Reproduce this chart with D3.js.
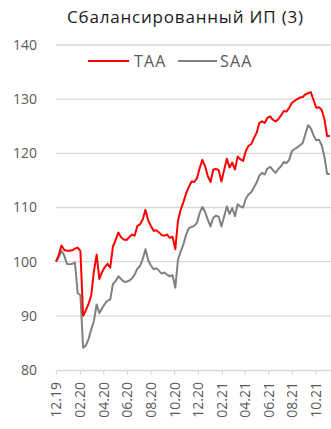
<!DOCTYPE html>
<html>
<head>
<meta charset="utf-8">
<script src="https://cdn.jsdelivr.net/npm/d3@7"></script>
<style>
  html, body { margin: 0; padding: 0; background: #fff; }
  svg { display: block; }
</style>
</head>
<body>
<svg id="chart" width="331" height="429"></svg>
<script>
// ---- data ----
const title = "Сбалансированный ИП (3)";
const seriesNames = ["TAA", "SAA"];
const startDate = "2019-12-01"; // weekly observations
const taa = [
  100.0, 101.2, 103.0, 102.2, 102.0, 102.0, 102.1, 102.4, 102.6, 102.0,
  90.0, 91.0, 92.2, 93.8, 98.3, 101.3, 96.8, 98.1, 99.0, 99.6,
  98.9, 102.8, 104.0, 105.4, 104.5, 104.1, 104.0, 104.5, 105.0, 104.8,
  106.6, 106.9, 107.8, 109.6, 107.6, 106.6, 105.7, 105.8, 105.4, 104.9,
  104.8, 105.0, 104.4, 104.6, 102.3, 107.6, 109.6, 111.0, 112.6, 113.8,
  114.8, 114.7, 115.4, 117.3, 118.8, 117.6, 115.8, 114.7, 117.0, 117.1,
  116.9, 114.8, 116.9, 119.0, 117.4, 118.3, 117.0, 119.4, 118.9, 118.6,
  120.4, 121.4, 121.7, 122.8, 123.8, 125.6, 125.9, 125.6, 126.6, 126.8,
  126.2, 125.9, 126.3, 127.0, 127.8, 127.7, 128.4, 129.3, 129.7, 130.0,
  130.3, 130.4, 130.9, 131.1, 131.3, 129.8, 128.4, 128.5, 128.0, 126.3,
  123.2, 123.2
];
const saa = [
  100.0, 100.8, 102.0, 101.2, 99.6, 99.5, 99.6, 99.8, 94.2, 93.8,
  84.1, 84.5, 85.7, 87.5, 89.1, 92.1, 90.5, 91.4, 92.2, 92.8,
  93.0, 95.9, 96.4, 97.3, 96.8, 96.3, 96.3, 96.5, 96.9, 97.6,
  98.7, 99.2, 100.5, 102.3, 100.3, 99.3, 98.6, 98.8, 98.3, 97.8,
  98.0, 97.6, 97.3, 97.5, 95.2, 100.4, 101.9, 103.2, 105.0, 106.2,
  106.4, 106.6, 107.2, 109.0, 110.1, 109.2, 107.7, 106.5, 108.1, 108.5,
  108.3, 106.5, 108.3, 110.2, 108.8, 109.9, 108.4, 110.6, 110.2, 110.0,
  111.6, 112.4, 112.8, 113.7, 114.6, 115.9, 116.4, 116.1, 117.2, 117.5,
  116.9, 116.4, 117.1, 117.6, 118.4, 118.2, 118.8, 120.4, 120.8, 121.1,
  121.5, 121.9, 123.6, 125.2, 124.6, 123.3, 122.4, 122.5, 121.5, 119.4,
  116.2, 116.2
];
const yTicks = [80, 90, 100, 110, 120, 130, 140];
const xTickLabels = ["12.19", "02.20", "04.20", "06.20", "08.20", "10.20",
                     "12.20", "02.21", "04.21", "06.21", "08.21", "10.21"];
const colors = ["#ff0000", "#808080"];

// ---- build ----
const parseDay = d3.utcParse("%Y-%m-%d");
const parseTick = d3.utcParse("%m.%y");
const d0 = parseDay(startDate);
const dates = taa.map((_, i) => d3.utcDay.offset(d0, 7 * i));
const rows = dates.map((d, i) => ({ date: d, taa: taa[i], saa: saa[i] }));

const svg = d3.select("#chart");
const font = "'Open Sans', sans-serif";
const textColor = "#595959";
const gridColor = "#d9d9d9";

const x = d3.scaleUtc()
  .domain([d0, d3.utcDay.offset(d0, 710)])
  .range([56, 331]);
const y = d3.scaleLinear().domain([80, 140]).range([370, 45]);

// gridlines
svg.append("g").selectAll("line")
  .data(yTicks.filter(t => t !== 80))
  .join("line")
  .attr("x1", 56).attr("x2", 331)
  .attr("y1", d => y(d)).attr("y2", d => y(d))
  .attr("stroke", gridColor).attr("stroke-width", 1.3);

// y labels
svg.append("g").selectAll("text")
  .data(yTicks)
  .join("text")
  .attr("x", 37).attr("y", d => y(d))
  .attr("dy", "0.35em")
  .attr("text-anchor", "end")
  .attr("font-family", font).attr("font-size", 14)
  .attr("fill", textColor)
  .text(d => d);

// x axis
const xTickDates = xTickLabels.map(s => parseTick(s));
const xAxis = d3.axisBottom(x)
  .tickValues(xTickDates)
  .tickSize(5)
  .tickSizeOuter(0)
  .tickFormat(d3.utcFormat("%m.%y"));
const gx = svg.append("g").attr("transform", "translate(0,370)").call(xAxis);
gx.select(".domain").attr("stroke", gridColor).attr("stroke-width", 1.3);
gx.selectAll(".tick line").attr("stroke", gridColor).attr("stroke-width", 1.3);
gx.selectAll(".tick text")
  .attr("font-family", font).attr("font-size", 14)
  .attr("fill", textColor)
  .attr("transform", "rotate(-90)")
  .attr("text-anchor", "end")
  .attr("x", -12).attr("y", 0).attr("dy", "0.35em");

// lines
const keys = ["saa", "taa"];
const colorOf = { taa: colors[0], saa: colors[1] };
keys.forEach(k => {
  svg.append("path")
    .datum(rows)
    .attr("fill", "none")
    .attr("stroke", colorOf[k])
    .attr("stroke-width", 2)
    .attr("stroke-linejoin", "round")
    .attr("d", d3.line().x(d => x(d.date)).y(d => y(d[k])));
});

// title
svg.append("text")
  .attr("x", 67).attr("y", 23)
  .attr("textLength", 236).attr("lengthAdjust", "spacing")
  .attr("font-family", font).attr("font-size", 17)
  .attr("fill", "#1a1a1a")
  .text(title);

// legend
const legend = svg.append("g");
const legendItems = [
  { name: seriesNames[0], color: colors[0], x1: 88, x2: 129, tx: 134 },
  { name: seriesNames[1], color: colors[1], x1: 178, x2: 217, tx: 220 }
];
legendItems.forEach(it => {
  legend.append("line")
    .attr("x1", it.x1).attr("x2", it.x2).attr("y1", 61).attr("y2", 61)
    .attr("stroke", it.color).attr("stroke-width", 2);
  legend.append("text")
    .attr("x", it.tx).attr("y", 61).attr("dy", "0.35em")
    .attr("letter-spacing", 1.2)
    .attr("font-family", font).attr("font-size", 16)
    .attr("fill", textColor)
    .text(it.name);
});
</script>
</body>
</html>
